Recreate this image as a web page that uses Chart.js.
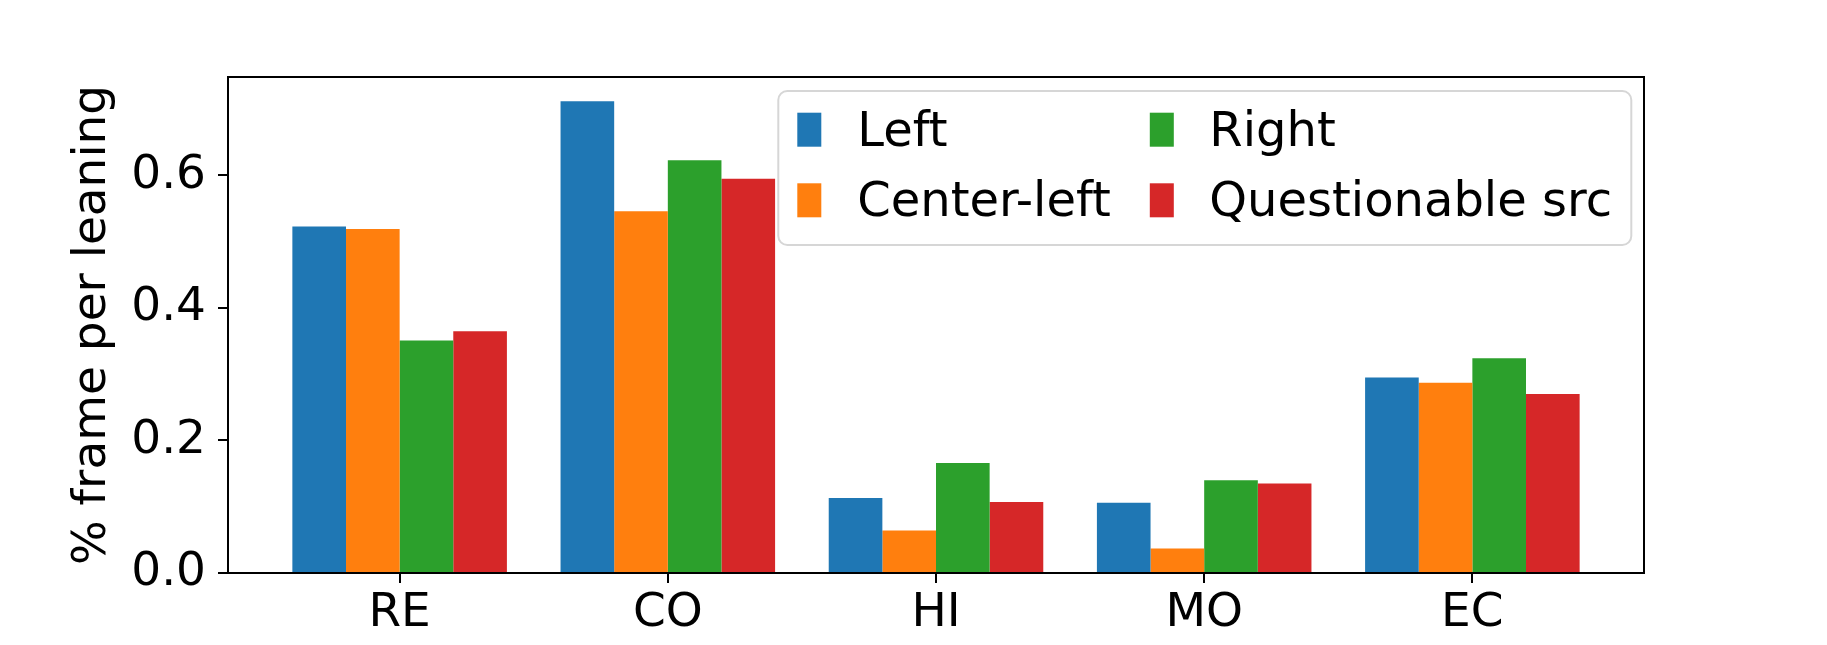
<!DOCTYPE html>
<html>
<head>
<meta charset="utf-8">
<script src="https://cdn.jsdelivr.net/npm/chart.js@4"></script>
<style>
  html, body { margin: 0; padding: 0; background: #fff; }
  canvas { display: block; }
</style>
</head>
<body>
<canvas id="chart" width="1827" height="645"></canvas>
<script>
// values
const categories = ["RE", "CO", "HI", "MO", "EC"];
const seriesLabels = ["Left", "Center-left", "Right", "Questionable src"];
const leftVals = [0.523, 0.712, 0.113, 0.106, 0.295];
const centerLeftVals = [0.519, 0.546, 0.064, 0.037, 0.287];
const rightVals = [0.351, 0.623, 0.166, 0.140, 0.324];
const questionableVals = [0.365, 0.595, 0.107, 0.135, 0.270];
const yTicks = [0.0, 0.2, 0.4, 0.6];

const colors = ["#1f77b4", "#ff7f0e", "#2ca02c", "#d62728"];
const FONT = "DejaVu Sans";

function toPoints(vals) {
    return vals.map((v, i) => ({ x: i, y: v }));
}

// top/right spines like matplotlib
const frame = {
    id: "frame",
    afterDraw(chart) {
        const { ctx, chartArea: a } = chart;
        ctx.save();
        ctx.strokeStyle = "#000";
        ctx.lineWidth = 2;
        ctx.strokeRect(a.left, a.top, a.right - a.left, a.bottom - a.top);
        ctx.restore();
    }
};

// two-column legend box in the upper right corner
const legendBox = {
    id: "legendBox",
    afterDraw(chart) {
        const { ctx, chartArea: a } = chart;
        const w = 853, h = 154;
        const x0 = a.right - 12.7 - w, y0 = a.top + 14;
        const r = 9;
        ctx.save();
        ctx.beginPath();
        ctx.moveTo(x0 + r, y0);
        ctx.arcTo(x0 + w, y0, x0 + w, y0 + h, r);
        ctx.arcTo(x0 + w, y0 + h, x0, y0 + h, r);
        ctx.arcTo(x0, y0 + h, x0, y0, r);
        ctx.arcTo(x0, y0, x0 + w, y0, r);
        ctx.closePath();
        ctx.fillStyle = "rgba(255,255,255,0.8)";
        ctx.fill();
        ctx.strokeStyle = "#d6d6d6";
        ctx.lineWidth = 2;
        ctx.stroke();

        const colX = [x0 + 19, x0 + 371.5];
        const textX = [x0 + 79, x0 + 431];
        const rowTop = [y0 + 21.7, y0 + 92.3];
        const baseline = [y0 + 54.7, y0 + 125.3];
        ctx.font = "48px '" + FONT + "'";
        ctx.textAlign = "left";
        ctx.textBaseline = "alphabetic";
        chart.data.datasets.forEach((ds, i) => {
            const col = Math.floor(i / 2), row = i % 2;
            ctx.fillStyle = ds.backgroundColor;
            ctx.fillRect(colX[col], rowTop[row], 24, 34);
            ctx.fillStyle = "#000";
            ctx.fillText(ds.label, textX[col], baseline[row]);
        });
        ctx.restore();
    }
};

const series = [leftVals, centerLeftVals, rightVals, questionableVals];

new Chart(document.getElementById("chart").getContext("2d"), {
    type: "bar",
    data: {
        datasets: series.map((vals, i) => ({
            label: seriesLabels[i],
            data: toPoints(vals),
            backgroundColor: colors[i],
            borderWidth: 0
        }))
    },
    options: {
        responsive: false,
        animation: false,
        layout: { padding: { top: 77, right: 183, bottom: 0, left: 0 } },
        datasets: {
            bar: { categoryPercentage: 0.8, barPercentage: 1.0 }
        },
        plugins: {
            legend: { display: false },
            tooltip: { enabled: false }
        },
        scales: {
            x: {
                type: "linear",
                min: -0.64,
                max: 4.64,
                offset: false,
                grid: { offset: false, drawOnChartArea: false, tickLength: 10, color: "#000", lineWidth: 2 },
                border: { display: true, color: "#000", width: 2 },
                ticks: {
                    padding: 3,
                    maxRotation: 0,
                    autoSkip: false,
                    color: "#000",
                    font: { family: FONT, size: 47 },
                    callback: (v) => categories[v] !== undefined ? categories[v] : ""
                },
                afterBuildTicks(scale) {
                    scale.ticks = categories.map((c, i) => ({ value: i }));
                },
                afterFit(scale) {
                    scale.height = 72;
                }
            },
            y: {
                min: 0,
                max: 0.7485,
                grid: { drawOnChartArea: false, tickLength: 10, color: "#000", lineWidth: 2 },
                border: { display: true, color: "#000", width: 2 },
                ticks: {
                    padding: 12,
                    color: "#000",
                    font: { family: FONT, size: 47 },
                    callback: (v) => v.toFixed(1)
                },
                title: {
                    display: true,
                    text: "% frame per leaning",
                    color: "#000",
                    font: { family: FONT, size: 47 },
                    padding: { top: 65, bottom: 0 }
                },
                afterBuildTicks(scale) {
                    scale.ticks = yTicks.map(v => ({ value: v }));
                },
                afterFit(scale) {
                    scale.width = 228;
                }
            }
        }
    },
    plugins: [frame, legendBox]
});
</script>
</body>
</html>
